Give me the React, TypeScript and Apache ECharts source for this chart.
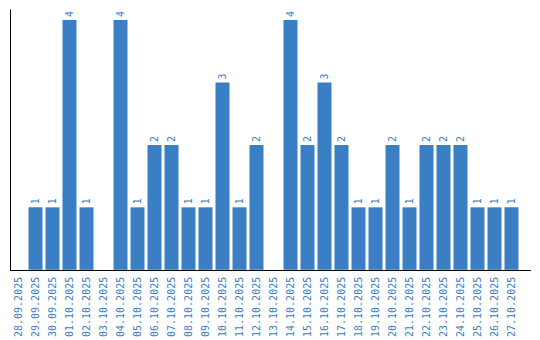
import React, { useEffect, useRef } from "react";
import * as echarts from "echarts";

const categories = [
  "28.09.2025", "29.09.2025", "30.09.2025", "01.10.2025", "02.10.2025", "03.10.2025",
  "04.10.2025", "05.10.2025", "06.10.2025", "07.10.2025", "08.10.2025", "09.10.2025",
  "10.10.2025", "11.10.2025", "12.10.2025", "13.10.2025", "14.10.2025", "15.10.2025",
  "16.10.2025", "17.10.2025", "18.10.2025", "19.10.2025", "20.10.2025", "21.10.2025",
  "22.10.2025", "23.10.2025", "24.10.2025", "25.10.2025", "26.10.2025", "27.10.2025",
];
const values = [0, 1, 1, 4, 1, 0, 4, 1, 2, 2, 1, 1, 3, 1, 2, 0, 4, 2, 3, 2, 1, 1, 2, 1, 2, 2, 2, 1, 1, 1];

const BLUE = "#3a7ec3";
const FONT = "DejaVu Sans Mono";

export default function App() {
  const ref = useRef<HTMLDivElement>(null);
  useEffect(() => {
    document.body.style.margin = "0";
    const chart = echarts.init(ref.current!, null, { renderer: "svg" });
    chart.setOption({
      animation: false,
      grid: { left: 10, top: 10, width: 510, height: 260, containLabel: false },
      xAxis: {
        type: "category",
        data: categories,
        axisLine: { show: false },
        axisTick: { show: false },
        axisLabel: {
          rotate: 90,
          interval: 0,
          margin: 7,
          color: BLUE,
          fontFamily: FONT,
          fontSize: 10,
        },
      },
      yAxis: {
        type: "value",
        min: 0,
        max: 4.16,
        axisLine: { show: true, lineStyle: { color: "#000", width: 1 } },
        axisTick: { show: false },
        axisLabel: { show: false },
        splitLine: { show: false },
      },
      graphic: [
        {
          type: "line",
          shape: { x1: 10, y1: 270.5, x2: 531, y2: 270.5 },
          style: { stroke: "#000", lineWidth: 1 },
          z: 10,
        },
      ],
      series: [
        {
          type: "bar",
          data: values.map((v) => ({
            value: v,
            label: { show: v > 0 },
          })),
          barCategoryGap: "17.6%",
          itemStyle: { color: BLUE },
          label: {
            show: true,
            position: "top",
            rotate: 90,
            distance: 3,
            align: "left",
            verticalAlign: "middle",
            color: BLUE,
            fontFamily: FONT,
            fontSize: 10,
          },
        },
      ],
    });
    return () => chart.dispose();
  }, []);
  return <div ref={ref} style={{ width: 540, height: 340 }} />;
}
